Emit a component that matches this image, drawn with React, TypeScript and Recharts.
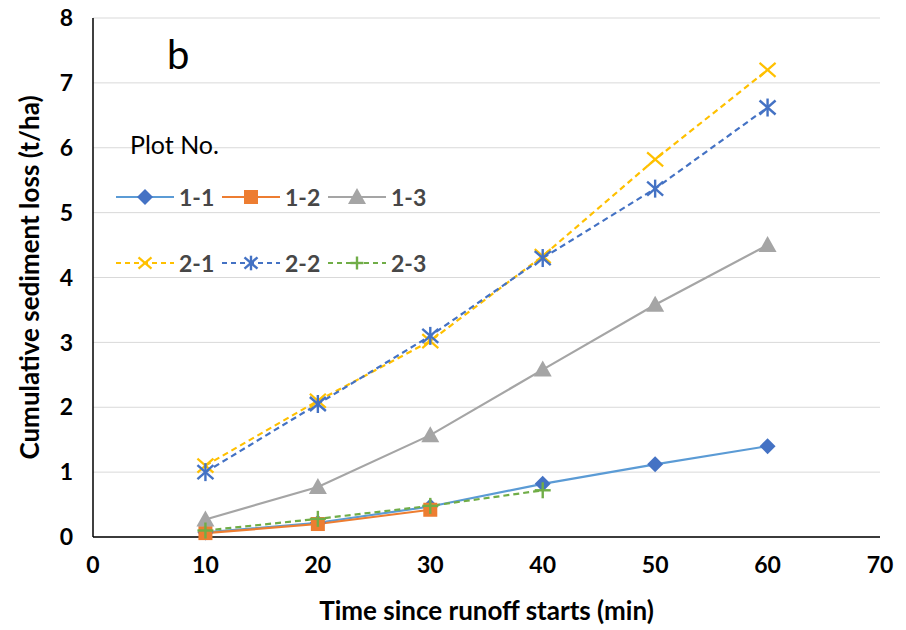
import React from 'react';
import { LineChart, Line, XAxis, YAxis, CartesianGrid } from 'recharts';

const times = [10, 20, 30, 40, 50, 60];
const plot11 = [0.07, 0.22, 0.47, 0.82, 1.12, 1.4];
const plot12 = [0.06, 0.2, 0.42];
const plot13 = [0.27, 0.77, 1.57, 2.58, 3.58, 4.5];
const plot21 = [1.1, 2.1, 3.02, 4.33, 5.82, 7.2];
const plot22 = [1.0, 2.05, 3.1, 4.3, 5.37, 6.62];
const plot23 = [0.1, 0.28, 0.48, 0.72];
const xTicks = [0, 10, 20, 30, 40, 50, 60, 70];
const yTicks = [0, 1, 2, 3, 4, 5, 6, 7, 8];

const data = times.map((t, i) => ({
    t,
    p11: plot11[i] ?? null,
    p12: plot12[i] ?? null,
    p13: plot13[i] ?? null,
    p21: plot21[i] ?? null,
    p22: plot22[i] ?? null,
    p23: plot23[i] ?? null,
}));

type Shape = 'diamond' | 'square' | 'triangle' | 'x' | 'star' | 'plus';

const SERIES: { key: string; name: string; color: string; marker: string; shape: Shape; dashed: boolean }[] = [
    { key: 'p11', name: '1-1', color: '#5B9BD5', marker: '#4472C4', shape: 'diamond', dashed: false },
    { key: 'p12', name: '1-2', color: '#ED7D31', marker: '#ED7D31', shape: 'square', dashed: false },
    { key: 'p13', name: '1-3', color: '#A5A5A5', marker: '#A5A5A5', shape: 'triangle', dashed: false },
    { key: 'p21', name: '2-1', color: '#FFC000', marker: '#FFC000', shape: 'x', dashed: true },
    { key: 'p22', name: '2-2', color: '#4472C4', marker: '#4472C4', shape: 'star', dashed: true },
    { key: 'p23', name: '2-3', color: '#70AD47', marker: '#70AD47', shape: 'plus', dashed: true },
];

const FONT = 'Lato, "Open Sans", sans-serif';

function Marker({ cx, cy, shape, color, r = 8 }: { cx: number; cy: number; shape: Shape; color: string; r?: number }) {
    if (cx == null || cy == null) return null;
    const k = r / 8;
    switch (shape) {
        case 'diamond':
            return <path d={`M${cx},${cy - 8 * k} L${cx + 8 * k},${cy} L${cx},${cy + 8 * k} L${cx - 8 * k},${cy} Z`} fill={color} />;
        case 'square':
            return <rect x={cx - 7 * k} y={cy - 7 * k} width={14 * k} height={14 * k} fill={color} />;
        case 'triangle':
            return <path d={`M${cx},${cy - 9 * k} L${cx + 9 * k},${cy + 7 * k} L${cx - 9 * k},${cy + 7 * k} Z`} fill={color} />;
        case 'x':
            return (
                <g stroke={color} strokeWidth={2.2}>
                    <line x1={cx - 8 * k} y1={cy - 7 * k} x2={cx + 8 * k} y2={cy + 7 * k} />
                    <line x1={cx - 8 * k} y1={cy + 7 * k} x2={cx + 8 * k} y2={cy - 7 * k} />
                </g>
            );
        case 'star':
            return (
                <g stroke={color} strokeWidth={2.4}>
                    <line x1={cx - 8 * k} y1={cy - 7 * k} x2={cx + 8 * k} y2={cy + 7 * k} />
                    <line x1={cx - 8 * k} y1={cy + 7 * k} x2={cx + 8 * k} y2={cy - 7 * k} />
                    <line x1={cx} y1={cy - 9 * k} x2={cx} y2={cy + 9 * k} />
                </g>
            );
        case 'plus':
            return (
                <g stroke={color} strokeWidth={2.4}>
                    <line x1={cx - 8 * k} y1={cy} x2={cx + 8 * k} y2={cy} />
                    <line x1={cx} y1={cy - 8 * k} x2={cx} y2={cy + 8 * k} />
                </g>
            );
    }
    return null;
}

function LegendItem({ s }: { s: (typeof SERIES)[number] }) {
    return (
        <div style={{ display: 'flex', alignItems: 'center', width: 106 }}>
            <svg width={58} height={22}>
                <line x1={0} y1={11} x2={58} y2={11} stroke={s.color} strokeWidth={2.2} strokeDasharray={s.dashed ? '5 4' : undefined} />
                <Marker cx={29} cy={11} shape={s.shape} color={s.marker} r={s.dashed ? 6.5 : 8} />
            </svg>
            <span style={{ marginLeft: 5, fontSize: 23, fontWeight: 700, color: '#474747', fontFamily: FONT, lineHeight: '22px' }}>{s.name}</span>
        </div>
    );
}

export default function App() {
    return (
        <div style={{ position: 'fixed', left: 0, top: 0, width: 906, height: 630, background: '#fff' }}>
            <LineChart width={906} height={630} data={data} margin={{ top: 18, right: 26, bottom: 10, left: 33 }}>
                <CartesianGrid vertical={false} stroke="#D9D9D9" strokeWidth={1} />
                <XAxis
                    dataKey="t"
                    type="number"
                    domain={[0, 70]}
                    ticks={xTicks}
                    tickLine={false}
                    axisLine={{ stroke: '#000', strokeWidth: 1.5 }}
                    height={83}
                    tickMargin={14}
                    tick={{ fontSize: 23, fontWeight: 700, fill: '#000', fontFamily: FONT }}
                    label={{ value: 'Time since runoff starts (min)', position: 'insideBottom', offset: 0, style: { fontSize: 26, fontWeight: 700, fill: '#000', fontFamily: FONT } }}
                />
                <YAxis
                    type="number"
                    domain={[0, 8]}
                    ticks={yTicks}
                    tickLine={false}
                    axisLine={{ stroke: '#000', strokeWidth: 1.5 }}
                    width={60}
                    tickMargin={14}
                    tick={{ fontSize: 23, fontWeight: 700, fill: '#000', fontFamily: FONT }}
                    label={{ value: 'Cumulative sediment loss (t/ha)', angle: -90, position: 'insideLeft', offset: -3, style: { textAnchor: 'middle', fontSize: 26, fontWeight: 700, fill: '#000', fontFamily: FONT } }}
                />
                {SERIES.map((s) => (
                    <Line
                        key={s.key}
                        dataKey={s.key}
                        name={s.name}
                        stroke={s.color}
                        strokeWidth={2.2}
                        strokeDasharray={s.dashed ? '6 4' : undefined}
                        isAnimationActive={false}
                        connectNulls={false}
                        activeDot={false}
                        dot={(p: any) => <Marker key={`${s.key}-${p.index}`} cx={p.cx} cy={p.cy} shape={s.shape} color={s.marker} />}
                    />
                ))}
            </LineChart>
            <div style={{ position: 'absolute', left: 167, top: 30, fontSize: 40, lineHeight: '48px', fontFamily: FONT, color: '#000' }}>b</div>
            <div style={{ position: 'absolute', left: 130, top: 129, fontSize: 25, lineHeight: '30px', fontFamily: FONT, color: '#000' }}>Plot No.</div>
            <div style={{ position: 'absolute', left: 116, top: 186, display: 'flex' }}>
                {SERIES.slice(0, 3).map((s) => <LegendItem key={s.key} s={s} />)}
            </div>
            <div style={{ position: 'absolute', left: 116, top: 252, display: 'flex' }}>
                {SERIES.slice(3).map((s) => <LegendItem key={s.key} s={s} />)}
            </div>
        </div>
    );
}
